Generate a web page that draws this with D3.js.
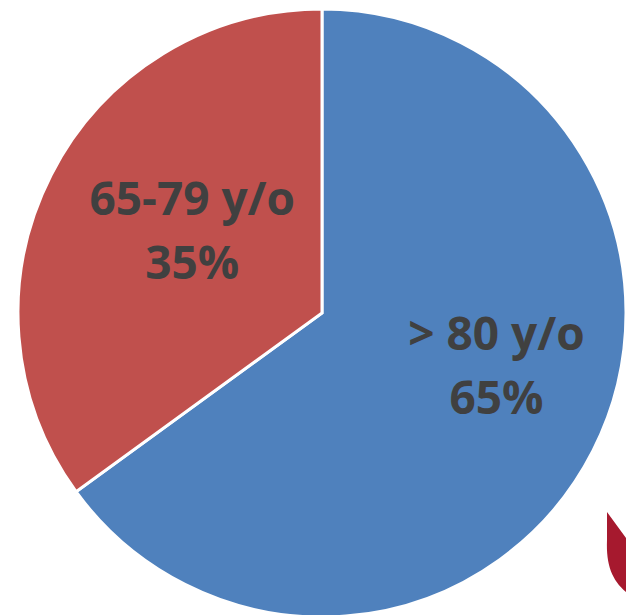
<!DOCTYPE html>
<html><head><meta charset="utf-8">
<script src="https://cdn.jsdelivr.net/npm/d3@7"></script>
<style>html,body{margin:0;padding:0;background:#fff;overflow:hidden}</style>
</head><body>
<svg id="c" width="626" height="615"></svg>
<script>
const categories = ["> 80 y/o", "65-79 y/o"];
const values = [65, 35];
const percentLabels = ["65%", "35%"];
const colors = ["#4F81BD", "#C0504D"];

const svg = d3.select("#c");
const cx = 322, cy = 313, R = 304;
const g = svg.append("g").attr("transform", `translate(${cx},${cy})`);

const pie = d3.pie().sort(null).value(d => d.v);
const arcs = pie(categories.map((c, i) => ({c, v: values[i], p: percentLabels[i], col: colors[i]})));
const arc = d3.arc().innerRadius(0).outerRadius(R);

g.selectAll("path.slice").data(arcs).enter().append("path")
  .attr("class", "slice")
  .attr("d", arc)
  .attr("fill", d => d.data.col)
  .attr("stroke", "#fff").attr("stroke-width", 3).attr("stroke-linejoin", "miter");

// Excel "best fit" label anchors: polar position (radius px, angle deg) per slice
const labelPolar = [{r: 178.6, a: 102.3}, {r: 162, a: 306.8}];
const lineGap = 64;
arcs.forEach((d, i) => {
  const a = labelPolar[i].a * Math.PI / 180;
  const r = labelPolar[i].r;
  const x = Math.sin(a) * r, y = -Math.cos(a) * r;
  const t = g.append("text").attr("text-anchor", "middle")
    .attr("font-family", "'Open Sans', 'Noto Sans', sans-serif")
    .attr("font-weight", "bold").attr("font-size", 46).attr("fill", "#404040");
  t.append("tspan").attr("x", x).attr("y", y - 1).text(d.data.c);
  t.append("tspan").attr("x", x).attr("y", y - 1 + lineGap).text(d.data.p);
});

// decorative logo fragment at bottom right
const p = d3.path();
p.moveTo(607, 512);
p.lineTo(626, 538);
p.lineTo(626, 592);
p.bezierCurveTo(612, 580, 606, 565, 607, 540);
p.closePath();
svg.append("path").attr("d", p.toString()).attr("fill", "#A6192E");
</script>
</body></html>
